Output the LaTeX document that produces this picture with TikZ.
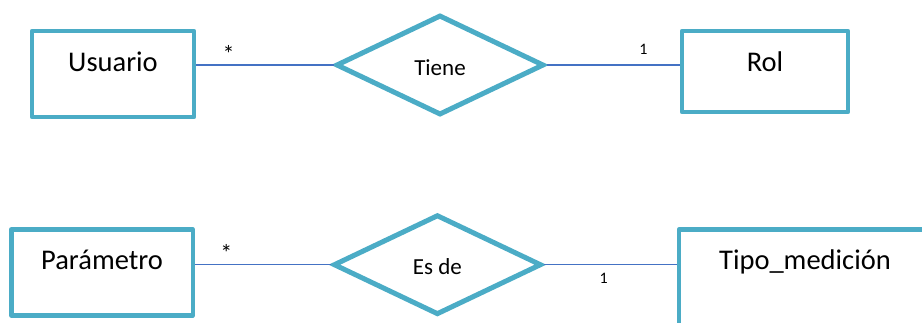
\documentclass[tikz,border=0pt]{standalone}
\usepackage{fontspec}
\setmainfont{Carlito}
\usetikzlibrary{shapes.geometric}

\definecolor{erborde}{HTML}{4BACC6}
\definecolor{erlinea}{HTML}{4472C4}

\tikzset{
    entidad/.style={draw=erborde, line width=4.5pt, line join=round, rectangle,
                    inner xsep=0pt, inner ysep=0pt, text height=40pt,
                    font=\fontsize{28.5}{30}\selectfont},
    relacion/.style={draw=erborde, line width=5pt, diamond, inner sep=0pt,
                     minimum width=208pt, minimum height=100pt,
                     text height=20pt, text depth=0pt,
                     font=\fontsize{23}{25}\selectfont},
    enlace/.style={draw=erlinea, line width=1.2pt},
    muchos/.style={font=\fontsize{24}{26}\selectfont, inner sep=0pt},
    uno/.style={font=\fontsize{16}{18}\selectfont, inner sep=0pt}
}

\begin{document}
\begin{tikzpicture}[x=1pt, y=-1pt]
            \clip (0,0) rectangle (922,322);

            \node [entidad, minimum width=162pt, text depth=46pt] (usuario) at (113,74) {Usuario};
            \node [relacion] (tiene) at (440,65) {Tiene};
            \node [entidad, minimum width=166pt, text depth=41pt] (rol) at (765,71.5) {Rol};
            \draw [enlace] (tiene.west -| usuario.east) -- node [muchos, above=2pt, pos=0.235] {*} (tiene.west);
            \draw [enlace] (tiene.east) -- node [uno, above=10pt, pos=0.727] {1} (tiene.east -| rol.west);

            \node [entidad, minimum width=181.5pt, text depth=46pt] (parametro) at (102,272.4) {Parámetro};
            \node [relacion] (esde) at (437.4,264.7) {Es de};
            \node [entidad, minimum width=252pt, text depth=60pt] (tipo) at (805,279.7) {Tipo\_medición};
            \draw [enlace] (esde.west -| parametro.east) -- node [muchos, above=2.5pt, pos=0.23] {*} (esde.west);
            \draw [enlace] (esde.east) -- node [uno, below=8pt, pos=0.45] {1} (esde.east -| tipo.west);
        \end{tikzpicture}
\end{document}
